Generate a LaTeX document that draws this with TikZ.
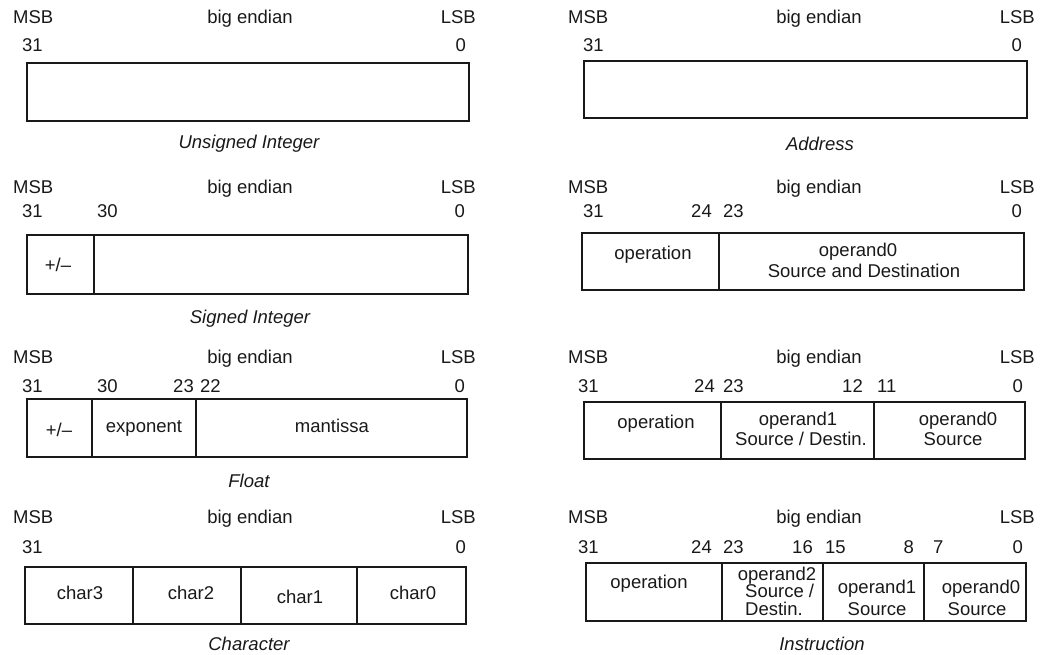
\documentclass[tikz,border=0pt]{standalone}
\usepackage{fontspec}
\setmainfont{Liberation Sans}
\newcommand\fsz{\fontsize{18.5}{21}\selectfont}
\tikzset{
  txt/.style={font=\fsz, inner sep=0pt, anchor=base, text=black!90},
  txtl/.style={txt, anchor=base west},
  txtr/.style={txt, anchor=base east},
  capt/.style={txt, font=\fsz\itshape},
  fld/.style={draw=black!90, line width=1.8pt},
  sep/.style={draw=black!90, line width=1.8pt},
}
\begin{document}
\begin{tikzpicture}[x=1pt,y=-1pt]
\useasboundingbox (0,0) rectangle (1050,654);

% ---------- Left column ----------
% Row 1: Unsigned Integer
\node[txtl] (m1) at (13,23.5) {MSB};
\node[txt]  (e1) at (250,23.5) {big endian};
\node[txtr] (l1) at (476,23.5) {LSB};
\node[txtl] (b1a) at (22,51) {31};
\node[txtr] (b1b) at (466,51) {0};
\draw[fld] (27,63) rectangle (469,121);
\node[capt] (c1) at (249,148) {Unsigned Integer};

% Row 2: Signed Integer
\node[txtl] (m2) at (13,193) {MSB};
\node[txt]  (e2) at (250,193) {big endian};
\node[txtr] (l2) at (476,193) {LSB};
\node[txtl] (b2a) at (22,217) {31};
\node[txtl] (b2b) at (97,217) {30};
\node[txtr] (b2c) at (465,217) {0};
\draw[fld] (27,235) rectangle (468,294);
\draw[sep] (94,235) -- (94,294);
\node[txt] (s2) at (58,271) {+/--};
\node[capt] (c2) at (250,323) {Signed Integer};

% Row 3: Float
\node[txtl] (m3) at (13,363) {MSB};
\node[txt]  (e3) at (250,363) {big endian};
\node[txtr] (l3) at (476,363) {LSB};
\node[txtl] (b3a) at (22,392) {31};
\node[txtl] (b3b) at (97,392) {30};
\node[txtr] (b3c) at (194,392) {23};
\node[txtl] (b3d) at (200,392) {22};
\node[txtr] (b3e) at (465,392) {0};
\draw[fld] (27,399) rectangle (467,457);
\draw[sep] (92,399) -- (92,457);
\draw[sep] (196,399) -- (196,457);
\node[txt] (s3) at (59,436) {+/--};
\node[txt] (x3) at (144,432) {exponent};
\node[txt] (t3) at (332,432) {mantissa};
\node[capt] (c3) at (249,487) {Float};

% Row 4: Character
\node[txtl] (m4) at (13,523) {MSB};
\node[txt]  (e4) at (250,523) {big endian};
\node[txtr] (l4) at (476,523) {LSB};
\node[txtl] (b4a) at (22,553) {31};
\node[txtr] (b4b) at (466,553) {0};
\draw[fld] (25,567) rectangle (466,624);
\draw[sep] (133,567) -- (133,624);
\draw[sep] (241,567) -- (241,624);
\draw[sep] (357,567) -- (357,624);
\node[txt] (ch3) at (80,599) {char3};
\node[txt] (ch2) at (191,599) {char2};
\node[txt] (ch1) at (300,603) {char1};
\node[txt] (ch0) at (413,599) {char0};
\node[capt] (c4) at (249,650) {Character};

% ---------- Right column ----------
% Row 1: Address
\node[txtl] (rm1) at (568,23.5) {MSB};
\node[txt]  (re1) at (819,23.5) {big endian};
\node[txtr] (rl1) at (1035,23.5) {LSB};
\node[txtl] (rb1a) at (583,51) {31};
\node[txtr] (rb1b) at (1022,51) {0};
\draw[fld] (584,61) rectangle (1027,118);
\node[capt] (rc1) at (820,150) {Address};

% Row 2
\node[txtl] (rm2) at (568,193) {MSB};
\node[txt]  (re2) at (819,193) {big endian};
\node[txtr] (rl2) at (1035,193) {LSB};
\node[txtl] (rb2a) at (583,217) {31};
\node[txtr] (rb2b) at (712,217) {24};
\node[txtl] (rb2c) at (723,217) {23};
\node[txtr] (rb2d) at (1022,217) {0};
\draw[fld] (582,233) rectangle (1024,290);
\draw[sep] (719,233) -- (719,290);
\node[txt] (ro2) at (653,259) {operation};
\node[txt] (rp2a) at (858,256) {operand0};
\node[txt] (rp2b) at (864,277) {Source and Destination};

% Row 3
\node[txtl] (rm3) at (568,363) {MSB};
\node[txt]  (re3) at (819,363) {big endian};
\node[txtr] (rl3) at (1035,363) {LSB};
\node[txtl] (rb3a) at (578,392) {31};
\node[txtr] (rb3b) at (715,392) {24};
\node[txtl] (rb3c) at (723,392) {23};
\node[txtr] (rb3d) at (863,392) {12};
\node[txtl] (rb3e) at (877,392) {11};
\node[txtr] (rb3f) at (1023,392) {0};
\draw[fld] (584,402) rectangle (1025,459);
\draw[sep] (721,402) -- (721,459);
\draw[sep] (874,402) -- (874,459);
\node[txt] (ro3) at (656,428) {operation};
\node[txt] (rq3a) at (798,425) {operand1};
\node[txt] (rq3b) at (801,445) {Source / Destin.};
\node[txt] (rp3a) at (958,425) {operand0};
\node[txt] (rp3b) at (953,445) {Source};

% Row 4: Instruction
\node[txtl] (rm4) at (568,523) {MSB};
\node[txt]  (re4) at (819,523) {big endian};
\node[txtr] (rl4) at (1035,523) {LSB};
\node[txtl] (rb4a) at (578,553) {31};
\node[txtr] (rb4b) at (712,553) {24};
\node[txtl] (rb4c) at (723,553) {23};
\node[txtr] (rb4d) at (813,553) {16};
\node[txtl] (rb4e) at (825,553) {15};
\node[txtr] (rb4f) at (914,553) {8};
\node[txtl] (rb4g) at (933,553) {7};
\node[txtr] (rb4h) at (1023,553) {0};
\draw[fld] (586,563) rectangle (1026,621);
\draw[sep] (722,563) -- (722,621);
\draw[sep] (823,563) -- (823,621);
\draw[sep] (924,563) -- (924,621);
\node[txt] (ro4) at (649,588) {operation};
\node[txt] (rr4a) at (777,580) {operand2};
\node[txtl] (rr4b) at (745,597) {Source /};
\node[txtl] (rr4c) at (745,615) {Destin.};
\node[txt] (rq4a) at (877,593) {operand1};
\node[txt] (rq4b) at (877,615) {Source};
\node[txt] (rp4a) at (981,593) {operand0};
\node[txt] (rp4b) at (977,615) {Source};
\node[capt] (rc4) at (822,650) {Instruction};
\end{tikzpicture}
\end{document}
